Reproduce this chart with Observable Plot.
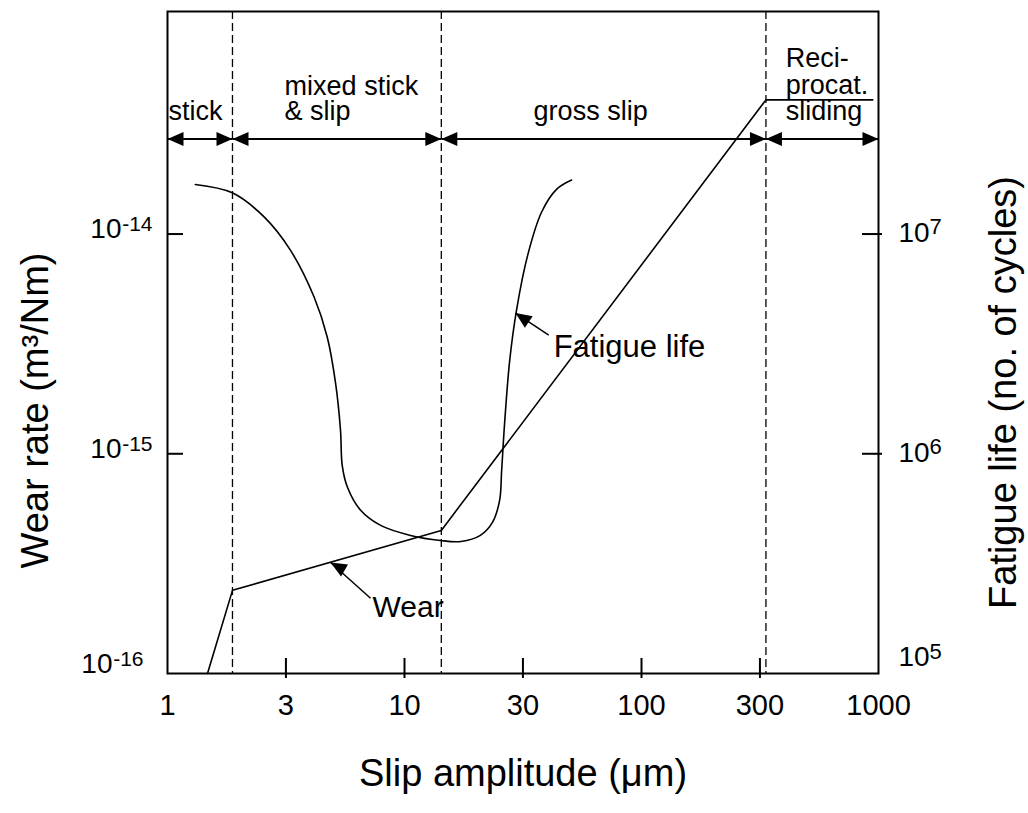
<!DOCTYPE html>
<html><head><meta charset="utf-8">
<script src="https://cdn.jsdelivr.net/npm/d3@7"></script>
<script src="https://cdn.jsdelivr.net/npm/@observablehq/plot@0.6"></script>
<style>body{margin:0;background:#fff} svg{display:block}</style>
</head><body><div id="chart"></div>
<script>
// ---- data ----
const xTickValues = [3.16, 10, 31.6, 100, 316];
const xLabelValues = [1, 3.16, 10, 31.6, 100, 316, 1000];
const xTickLabels = ["1", "3", "10", "30", "100", "300", "1000"];
const wearTickValues = [1e-16, 1e-15, 1e-14];
const wearTickExponents = ["-16", "-15", "-14"];
const lifeTickValues = [1e5, 1e6, 1e7];
const lifeTickExponents = ["5", "6", "7"];
const regionBounds = [1, 1.88, 14.3, 335, 1000];
const regionNames = ["stick", "mixed stick\n& slip", "gross slip", "Reci-\nprocat.\nsliding"];
const regionLabelX = [1, 3.12, 61, 406];
const regionArrowLevel = 2.71e-14;
const regionLabelLevel = 3.31e-14;
const wearSlip = [1.475, 1.88, 14.3, 335, 946];
const wearRate = [1e-16, 2.39e-16, 4.48e-16, 4.08e-14, 4.08e-14];
const fatigueSlip = [1.31, 1.876, 2.55, 3.30, 4.15, 4.72, 5.12, 5.37, 5.46, 5.74, 6.53, 7.93, 10.6, 14.2, 17.3, 20.9, 23.5, 25.2, 25.7, 26.5, 27.8, 29.7, 33.1, 37.9, 43.9, 50.7];
const fatigueLife = [1.68e7, 1.54e7, 1.20e7, 8.45e6, 5.18e6, 3.40e6, 2.09e6, 1.28e6, 8.86e5, 7.06e5, 5.53e5, 4.72e5, 4.25e5, 4.03e5, 3.99e5, 4.25e5, 4.87e5, 6.14e5, 8.41e5, 1.42e6, 2.67e6, 4.51e6, 8.02e6, 1.26e7, 1.60e7, 1.76e7];
const annotations = [
  {label: "Fatigue life", textX: 42.6, textY: 3.06e-15, tailX: 40.6, tailY: 3.47e-15, tipX: 29.4, tipY: 4.37e-15},
  {label: "Wear", textX: 7.33, textY: 2.0e-16, tailX: 7.19, tailY: 2.2e-16, tipX: 4.88, tipY: 3.2e-16}
];
const lifeScale = 1e-21; // right axis (cycles) -> left axis units, 1e5 cycles at 1e-16

// ---- derived tables ----
const wear = wearSlip.map((x, i) => ({x, y: wearRate[i]}));
const fatigue = fatigueSlip.map((x, i) => ({x, y: fatigueLife[i] * lifeScale}));
const regions = regionNames.map((name, i) => ({name, x1: regionBounds[i], x2: regionBounds[i + 1], lx: regionLabelX[i]}));
const dividers = regionBounds.slice(1, -1);

const arrowHead = {draw(ctx) { ctx.moveTo(0, 0); ctx.lineTo(-7, 16); ctx.lineTo(7, 16); ctx.closePath(); }};
const font = "'Liberation Sans', Arial, Helvetica, sans-serif";

const marks = [];
// dashed region dividers
marks.push(Plot.ruleX(dividers, {x: d => d, stroke: "black", strokeWidth: 1.3, strokeDasharray: "8,4"}));
// curves
marks.push(Plot.line(fatigue, {x: "x", y: "y", curve: "catmull-rom", stroke: "black", strokeWidth: 1.6}));
marks.push(Plot.line(wear, {x: "x", y: "y", stroke: "black", strokeWidth: 1.6}));
// region arrows
marks.push(Plot.link(regions, {x1: "x1", x2: "x2", y1: regionArrowLevel, y2: regionArrowLevel, stroke: "black", strokeWidth: 2}));
marks.push(Plot.dot(regions, {x: "x2", y: regionArrowLevel, symbol: arrowHead, rotate: 90, fill: "black", stroke: "none", r: 5}));
marks.push(Plot.dot(regions, {x: "x1", y: regionArrowLevel, symbol: arrowHead, rotate: -90, fill: "black", stroke: "none", r: 5}));
// region labels
const labelStyle = [
  {anchor: "start", dx: 1, lh: 0.9},
  {anchor: "start", dx: 0, lh: 0.92},
  {anchor: "middle", dx: 0, lh: 0.9},
  {anchor: "start", dx: 0, lh: 0.97}
];
regions.forEach((r, i) => {
  marks.push(Plot.text([r], {x: "lx", y: regionLabelLevel, text: "name", textAnchor: labelStyle[i].anchor, dx: labelStyle[i].dx,
    lineAnchor: "bottom", lineHeight: labelStyle[i].lh, fontSize: 27}));
});
// annotations
const annoRot = [-56, -60];
const annoSize = [31, 30];
annotations.forEach((a, i) => {
  marks.push(Plot.link([a], {x1: "tailX", y1: "tailY", x2: "tipX", y2: "tipY", stroke: "black", strokeWidth: 1.5}));
  marks.push(Plot.dot([a], {x: "tipX", y: "tipY", symbol: arrowHead, rotate: annoRot[i], fill: "black", stroke: "none", r: 5}));
  marks.push(Plot.text([a], {x: "textX", y: "textY", text: "label", textAnchor: "start", fontSize: annoSize[i]}));
});
// frame
marks.push(Plot.frame({stroke: "black", strokeWidth: 2}));
// ticks (inward, bottom ones cross the axis)
marks.push(Plot.ruleX(xTickValues, {x: d => d, y1: wearTickValues[0], y2: wearTickValues[0], insetTop: 5, insetBottom: 15, stroke: "black", strokeWidth: 2}));
marks.push(Plot.ruleY(wearTickValues.slice(1), {y: d => d, x1: 1, x2: 1, insetLeft: 0, insetRight: -16, stroke: "black", strokeWidth: 2}));
marks.push(Plot.ruleY(lifeTickValues.slice(1), {y: d => d * lifeScale, x1: 1000, x2: 1000, insetLeft: -16, insetRight: -4, stroke: "black", strokeWidth: 2}));
// x tick labels
marks.push(Plot.text(xLabelValues, {x: d => d, text: (d, i) => xTickLabels[i], frameAnchor: "bottom", lineAnchor: "middle", textAnchor: "middle", dy: 32, fontSize: 29}));
// left tick labels: 10 with superscript exponent
wearTickValues.forEach((v, i) => {
  const low = i === 0;
  marks.push(Plot.text([v], {y: d => d, frameAnchor: "left", text: () => "10", textAnchor: "end", lineAnchor: "middle", dx: low ? -55 : -46, dy: low ? -9 : -5, fontSize: 28}));
  marks.push(Plot.text([v], {y: d => d, frameAnchor: "left", text: () => wearTickExponents[i], textAnchor: "end", lineAnchor: "middle", dx: low ? -24 : -15, dy: low ? -14 : -9.5, fontSize: 21}));
});
// right tick labels
lifeTickValues.forEach((v, i) => {
  const low = i === 0;
  marks.push(Plot.text([v], {y: d => d * lifeScale, frameAnchor: "right", text: () => "10", textAnchor: "start", lineAnchor: "middle", dx: 20, dy: low ? -16 : -1, fontSize: 28}));
  marks.push(Plot.text([v], {y: d => d * lifeScale, frameAnchor: "right", text: () => lifeTickExponents[i], textAnchor: "start", lineAnchor: "middle", dx: 51, dy: low ? -21.5 : -7, fontSize: 22}));
});
// axis titles
marks.push(Plot.text(["Wear rate (m³/Nm)"], {text: d => d, frameAnchor: "left", textAnchor: "middle", lineAnchor: "middle", dx: -132, dy: 68, rotate: -90, fontSize: 38}));
marks.push(Plot.text(["Fatigue life (no. of cycles)"], {text: d => d, frameAnchor: "right", textAnchor: "middle", lineAnchor: "middle", dx: 125, dy: 50, rotate: -90, fontSize: 38}));
marks.push(Plot.text(["Slip amplitude (μm)"], {text: d => d, frameAnchor: "bottom", textAnchor: "middle", dy: 112, lineAnchor: "bottom", fontSize: 38}));

const chart = Plot.plot({
  width: 1028,
  height: 813,
  marginLeft: 167,
  marginRight: 150,
  marginTop: 11,
  marginBottom: 140,
  x: {type: "log", domain: [1, 1000], axis: null},
  y: {type: "log", domain: [1e-16, 1.03e-13], axis: null},
  style: {fontFamily: font, color: "black", background: "white", overflow: "visible"},
  marks
});
document.getElementById("chart").appendChild(chart);
</script>
</body></html>
